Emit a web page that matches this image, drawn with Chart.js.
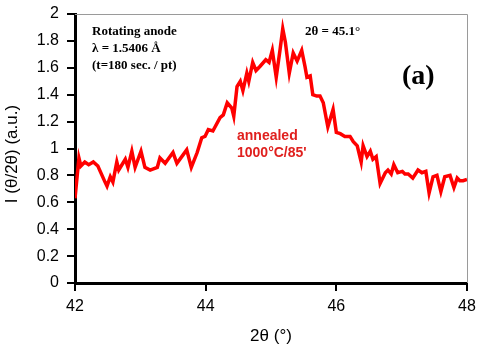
<!DOCTYPE html>
<html>
<head>
<meta charset="utf-8">
<script src="https://cdn.jsdelivr.net/npm/chart.js@4.4.1/dist/chart.umd.min.js"></script>
<style>
  html, body { margin: 0; padding: 0; background: #fff; }
  canvas { display: block; }
</style>
</head>
<body>
<canvas id="xrd" width="477" height="346"></canvas>
<script>
// --- data ---
const twoTheta = [
  42.00, 42.06, 42.09, 42.15, 42.21, 42.28, 42.35, 42.46, 42.49, 42.54,
  42.58, 42.64, 42.67, 42.77, 42.81, 42.87, 42.92, 43.01, 43.07, 43.15,
  43.26, 43.30, 43.38, 43.50, 43.56, 43.71, 43.78, 43.87, 43.94, 43.99,
  44.04, 44.11, 44.22, 44.27, 44.33, 44.40, 44.43, 44.48, 44.53, 44.57,
  44.63, 44.66, 44.72, 44.77, 44.83, 44.92, 44.97, 45.02, 45.08, 45.14,
  45.18, 45.22, 45.28, 45.34, 45.40, 45.47, 45.52, 45.55, 45.60, 45.64,
  45.70, 45.75, 45.80, 45.87, 45.95, 46.00, 46.06, 46.13, 46.21, 46.26,
  46.32, 46.38, 46.41, 46.47, 46.52, 46.56, 46.61, 46.67, 46.75, 46.79,
  46.84, 46.88, 46.94, 47.01, 47.05, 47.10, 47.17, 47.25, 47.31, 47.37,
  47.42, 47.48, 47.54, 47.60, 47.66, 47.74, 47.80, 47.85, 47.89, 47.94,
  48.00
];
const intensity = [
  0.63, 0.93, 0.87, 0.90, 0.88, 0.90, 0.87, 0.75, 0.72, 0.79,
  0.75, 0.90, 0.84, 0.92, 0.86, 0.98, 0.86, 0.98, 0.86, 0.84,
  0.86, 0.93, 0.89, 0.97, 0.89, 0.99, 0.86, 0.97, 1.08, 1.09,
  1.14, 1.13, 1.23, 1.25, 1.34, 1.30, 1.24, 1.46, 1.50, 1.43,
  1.56, 1.50, 1.64, 1.58, 1.61, 1.66, 1.64, 1.73, 1.53, 1.74,
  1.89, 1.79, 1.56, 1.71, 1.65, 1.73, 1.61, 1.53, 1.54, 1.40,
  1.39, 1.39, 1.34, 1.16, 1.29, 1.12, 1.11, 1.09, 1.09, 1.05,
  1.02, 0.90, 1.02, 0.94, 0.98, 0.92, 0.94, 0.74, 0.82, 0.84,
  0.81, 0.88, 0.82, 0.83, 0.81, 0.81, 0.78, 0.84, 0.82, 0.83,
  0.67, 0.79, 0.80, 0.68, 0.79, 0.80, 0.71, 0.78, 0.76, 0.76,
  0.77
];
const xTicks = [42, 44, 46, 48];
const yTicks = [0, 0.2, 0.4, 0.6, 0.8, 1, 1.2, 1.4, 1.6, 1.8, 2];

const points = twoTheta.map((t, i) => ({ x: t, y: intensity[i] }));

// frame, axis titles and the text notes inside the plot
const notes = {
  id: "notes",
  beforeDatasetsDraw(chart) {
    const { ctx, chartArea: a } = chart;
    ctx.save();
    ctx.strokeStyle = "#9a9a9a";
    ctx.lineWidth = 1;
    ctx.beginPath();
    ctx.moveTo(a.left, a.top + 0.5);
    ctx.lineTo(a.right + 0.5, a.top + 0.5);
    ctx.lineTo(a.right + 0.5, a.bottom);
    ctx.stroke();
    ctx.restore();
  },
  afterDraw(chart) {
    const { ctx, chartArea: a } = chart;
    ctx.save();
    ctx.fillStyle = "#000";

    // axis titles
    ctx.font = "17px 'Liberation Sans', Arial, sans-serif";
    ctx.textAlign = "center";
    ctx.textBaseline = "middle";
    ctx.fillText("2θ (°)", (a.left + a.right) / 2, 336);
    ctx.save();
    ctx.translate(12, 154);
    ctx.rotate(-Math.PI / 2);
    ctx.fillText("I (θ/2θ) (a.u.)", 0, 0);
    ctx.restore();

    // measurement notes
    ctx.textAlign = "left";
    ctx.textBaseline = "alphabetic";
    ctx.font = "bold 13px 'Liberation Serif', 'Times New Roman', serif";
    ctx.fillText("Rotating anode", 92, 35);
    ctx.fillText("λ = 1.5406 Å", 92, 52);
    ctx.fillText("(t=180 sec. / pt)", 92, 69);
    ctx.fillText("2θ = 45.1°", 305, 35);

    ctx.font = "bold 28px 'Liberation Serif', 'Times New Roman', serif";
    ctx.fillText("(a)", 402, 84);

    ctx.fillStyle = "#e0201e";
    ctx.font = "bold 14px 'Liberation Sans', Arial, sans-serif";
    ctx.fillText("annealed", 237, 140);
    ctx.fillText("1000°C/85'", 237, 157);
    ctx.restore();
  }
};

new Chart(document.getElementById("xrd"), {
  type: "line",
  data: {
    datasets: [{
      data: points,
      borderColor: "#ff0000",
      borderWidth: 3.5,
      pointRadius: 0,
      tension: 0,
      fill: false
    }]
  },
  options: {
    responsive: false,
    animation: false,
    layout: { padding: { top: 14, right: 10, left: 0, bottom: 0 } },
    plugins: {
      legend: { display: false },
      tooltip: { enabled: false }
    },
    scales: {
      x: {
        type: "linear",
        min: 42,
        max: 48,
        afterBuildTicks: (s) => { s.ticks = xTicks.map(v => ({ value: v })); },
        afterFit: (s) => { s.height = 63; s.paddingLeft = 0; s.paddingRight = 0; },
        grid: { drawOnChartArea: false, color: "#000", lineWidth: 2, tickLength: 8 },
        border: { color: "#000", width: 3 },
        ticks: {
          color: "#000",
          padding: 6,
          maxRotation: 0,
          font: { family: "'Liberation Sans', Arial, sans-serif", size: 16 }
        }
      },
      y: {
        min: 0,
        max: 2,
        afterBuildTicks: (s) => { s.ticks = yTicks.map(v => ({ value: v })); },
        afterFit: (s) => { s.width = 75; s.paddingTop = 0; s.paddingBottom = 0; },
        grid: { drawOnChartArea: false, color: "#000", lineWidth: 2, tickLength: 8 },
        border: { color: "#000", width: 3 },
        ticks: {
          color: "#000",
          padding: 8,
          callback: (v) => String(+v.toFixed(1)),
          font: { family: "'Liberation Sans', Arial, sans-serif", size: 16 }
        }
      }
    }
  },
  plugins: [notes]
});
</script>
</body>
</html>
